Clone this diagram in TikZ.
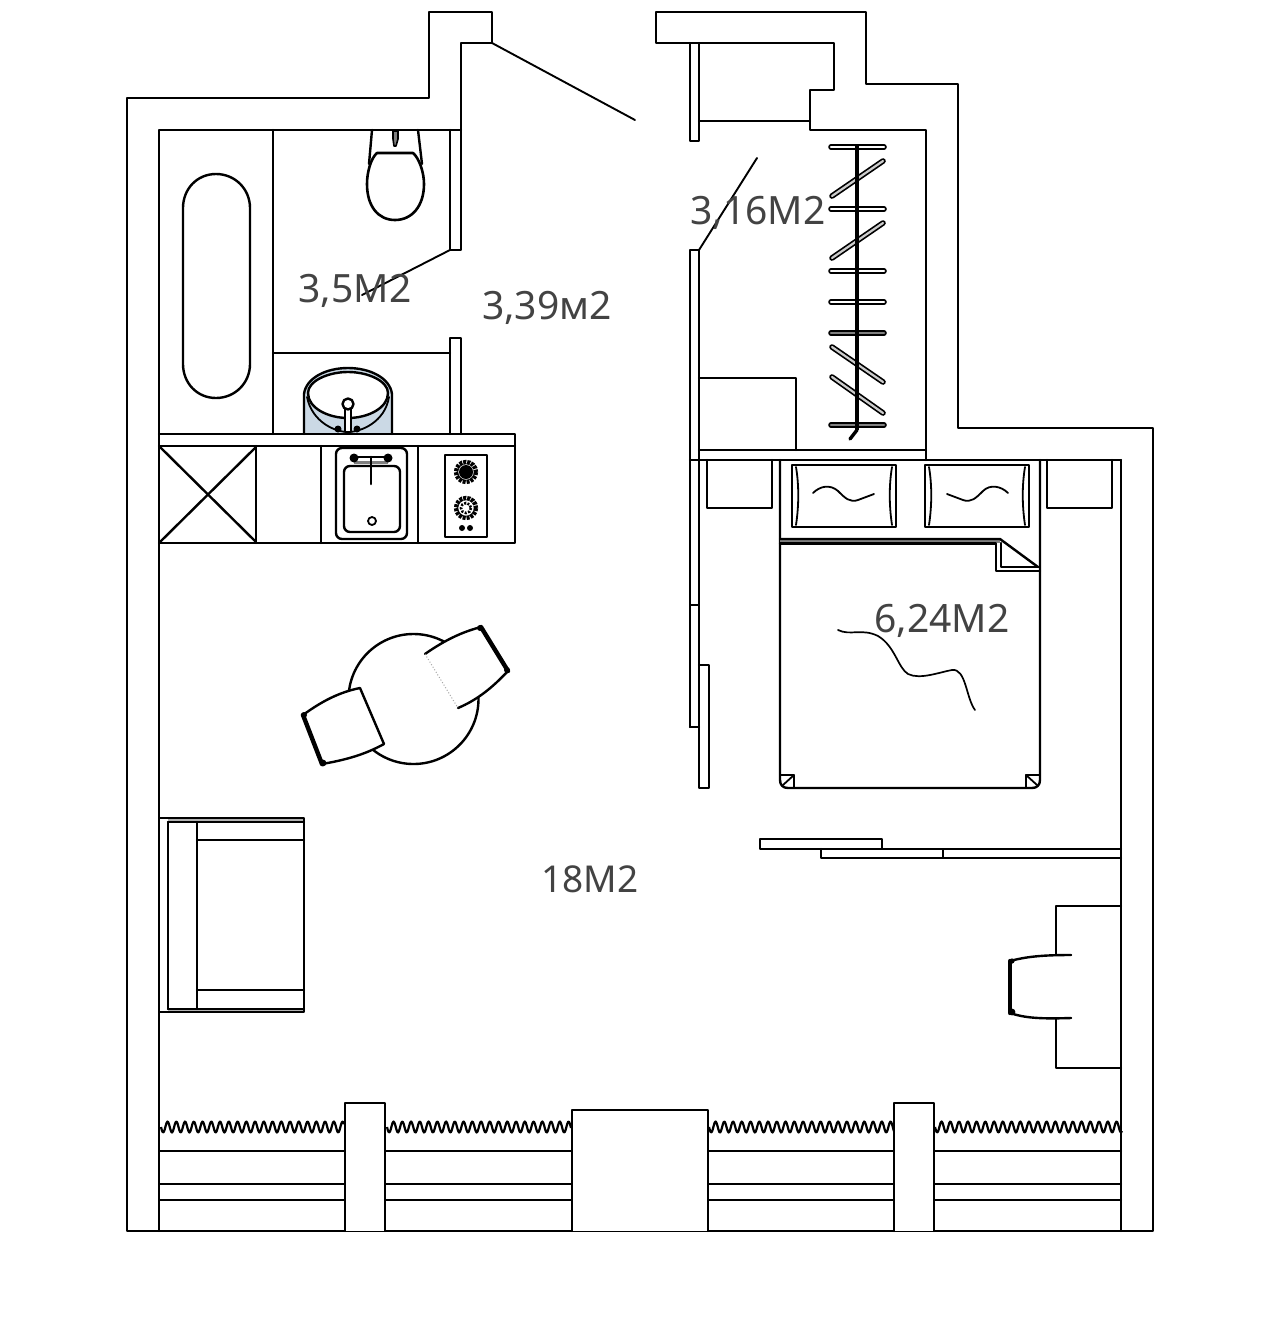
\documentclass[tikz,border=0pt]{standalone}
\usepackage{fontspec}
\setmainfont{Noto Sans}
\definecolor{basin}{HTML}{CBD9E5}
\definecolor{labelgrey}{HTML}{434343}
\tikzset{
  wall/.style={line width=2.4pt,line join=round,line cap=round},
  thin wall/.style={line width=1.8pt,line join=round,line cap=round},
  heavy/.style={line width=4.4pt,line cap=round},
  area/.style={text=labelgrey,font=\fontsize{39}{39}\selectfont,inner sep=0pt},
  curtain/.style={line width=2.2pt,line join=round},
  pillar/.style={wall,fill=white},
  chair/.style={wall,fill=white},
}
\newcommand{\hanger}[3][white]{%
  \draw[line width=5.6pt,line cap=round] #2 -- #3;
  \draw[line width=2.2pt,line cap=round,#1] #2 -- #3;}
\newcommand{\curtainrun}[2]{%
  \draw[curtain] plot[smooth,domain=0:#2,samples=200] ({#1+\x},{1127+5.5*sin(\x*41.14)});}
\begin{document}
\begin{tikzpicture}[x=1pt,y=-1pt]
\useasboundingbox (0,0) rectangle (1280,1325);
% outer walls
\draw[wall] (492,43) -- (492,12) -- (429,12) -- (429,98) -- (127,98) -- (127,1231) -- (1153,1231) -- (1153,428) -- (958,428) -- (958,84) -- (866,84) -- (866,12) -- (656,12) -- (656,43) -- (834,43) -- (834,90) -- (810,90) -- (810,130) -- (926,130) -- (926,460);
\draw[wall] (492,43) -- (461,43) -- (461,250) -- (450,250) -- (450,130);
\draw[wall] (159,1231) -- (159,130) -- (461,130);
\draw[wall] (450,434) -- (450,338) -- (461,338) -- (461,434);
\draw[wall] (273,130) -- (273,434);
\draw[wall] (273,353) -- (450,353);
% doors
\draw[wall,line width=1.9pt] (492,43) -- (635,120);
\draw[wall,line width=1.9pt] (699,250) -- (757,158);
\draw[wall,line width=1.9pt] (450,250) -- (362,295);
% hall niche
\draw[wall] (690,43) -- (690,141) -- (699,141) -- (699,43);
\draw[wall] (699,121) -- (810,121);
% wardrobe and bedroom partition
\draw[wall] (690,727) -- (690,250) -- (699,250) -- (699,788) -- (709,788) -- (709,665) -- (699,665);
\draw[wall] (690,727) -- (699,727);
\draw[thin wall] (690,605) -- (699,605);
\draw[wall] (699,378) -- (796,378) -- (796,450);
\draw[wall] (699,450) -- (926,450);
\draw[wall] (690,460) -- (1121,460);
\draw[wall] (1121,460) -- (1121,1231);
% rack
\hanger{(831,147)}{(884,147)}
\hanger{(831,209)}{(884,209)}
\hanger{(831,271)}{(884,271)}
\hanger{(831,302)}{(884,302)}
\hanger[gray]{(831,333)}{(884,333)}
\hanger[gray]{(831,425)}{(884,425)}
\hanger[gray!40]{(832,196)}{(883,161)}
\hanger[gray!40]{(832,258)}{(883,223)}
\hanger[gray!40]{(832,347)}{(883,382)}
\hanger[gray!40]{(832,377)}{(883,413)}
\draw[line width=3.4pt] (857,145) -- (857,430);
\draw[line width=3.4pt,line cap=round] (857,430) -- (850,439);
% bath
\draw[wall] (216,174) .. controls (235,174) and (250,189) .. (250,208) -- (250,364) .. controls (250,383) and (235,398) .. (216,398) .. controls (197,398) and (183,383) .. (183,364) -- (183,208) .. controls (183,189) and (197,174) .. (216,174) -- cycle;
% toilet
\draw[wall] (372,130) -- (369,164);
\draw[wall] (418,130) -- (422,164);
\draw[wall,line width=2.6pt] (377,153) -- (413,153) .. controls (419,158) and (424,172) .. (424,184) .. controls (424,206) and (412,220) .. (395,220) .. controls (378,220) and (367,206) .. (367,184) .. controls (367,172) and (371,158) .. (377,153) -- cycle;
\draw[wall,line width=1.6pt,fill=gray] (393,131) -- (398,131) -- (398,139) -- (396,146) -- (394,146) -- (393,139) -- cycle;
% basin
\draw[wall,fill=basin] (304,434) -- (304,394) .. controls (306,378) and (326,368) .. (348,368) .. controls (370,368) and (390,378) .. (392,394) -- (392,434);
\draw[wall,fill=white] (348,372) .. controls (368,372) and (388,381) .. (388,393) .. controls (388,408) and (368,418) .. (348,418) .. controls (328,418) and (308,408) .. (308,393) .. controls (308,381) and (328,372) .. (348,372) -- cycle;
\draw[thin wall] (307,397) .. controls (312,422) and (335,432) .. (348,432) .. controls (361,432) and (385,422) .. (389,397);
\draw[thin wall,fill=white] (345,409) -- (345,432) -- (351,432) -- (351,409) -- cycle;
\draw[wall,fill=white] (348,404) circle (5.5);
\fill (338,429) circle (3.5) (357,429) circle (3.5);
% kitchen counter
\draw[wall] (159,434) -- (515,434) -- (515,543) -- (159,543);
\draw[wall] (159,446) -- (515,446);
\draw[wall] (160,447) -- (256,542);
\draw[wall] (256,447) -- (160,542);
\draw[wall] (256,446) -- (256,543);
\draw[wall] (321,446) -- (321,543);
\draw[wall] (418,446) -- (418,543);
% sink
\draw[wall,rounded corners=6pt] (336,448) rectangle (407,539);
\draw[wall,rounded corners=6pt] (344,466) rectangle (400,532);
\draw[line width=3pt,gray] (354,462) -- (388,462);
\draw[wall] (354,457) -- (388,457);
\fill (354,458) circle (4.5) (388,458) circle (4.5);
\draw[wall,line width=2.6pt] (371,457) -- (371,484);
\draw[thin wall] (372,521) circle (4);
% hob
\draw[wall] (445,455) rectangle (487,537);
\draw[line width=4.4pt,dash pattern=on 3pt off 1pt] (466,472) circle (10);
\fill (466,472) circle (7);
\draw[line width=4.4pt,dash pattern=on 3pt off 1pt] (466,508) circle (10);
\draw[line width=2.6pt,dash pattern=on 2pt off 1.5pt] (466,508) circle (5);
\fill (462,528) circle (3) (470,528) circle (3);
% table and chairs
\draw[wall] (413.5,699) circle (65);
\fill[white] (360,688) -- (384,744) .. controls (364,755) and (345,760) .. (322,764) -- (303,715) .. controls (322,701) and (340,692) .. (360,688) -- cycle;
\draw[wall] (303,715) .. controls (322,701) and (340,692) .. (360,688) -- (384,744) .. controls (364,755) and (345,760) .. (322,764);
\draw[heavy] (303,715) -- (322,764);
\fill (304,715) circle (3) (323,763) circle (3.4);
\fill[white] (425,654) .. controls (445,640) and (462,632) .. (481,627) -- (508,671) .. controls (492,688) and (477,700) .. (458,708) -- cycle;
\draw[wall] (425,654) .. controls (445,640) and (462,632) .. (481,627);
\draw[wall] (458,708) .. controls (477,700) and (492,688) .. (508,671);
\draw[heavy] (481,627) -- (508,671);
\fill (480,628) circle (3) (507,670) circle (3);
\draw[gray!70,line width=1pt,dotted] (425,654) -- (458,708);
% sofa
\fill[gray!60] (168,818) rectangle (304,822);
\fill[gray!60] (168,1009) rectangle (304,1012);
\draw[wall] (160,818) -- (304,818) -- (304,1012) -- (160,1012);
\draw[wall] (168,822) -- (304,822);
\draw[wall] (168,1009) -- (304,1009);
\draw[wall] (168,822) -- (168,1009);
\draw[wall] (197,822) -- (197,1009);
\draw[wall] (197,840) -- (304,840);
\draw[wall] (197,990) -- (304,990);
% nightstands
\draw[wall] (707,460) -- (707,508) -- (772,508) -- (772,460);
\draw[wall] (1047,460) -- (1047,508) -- (1112,508) -- (1112,460);
% bed
\draw[wall] (780,460) -- (780,780) .. controls (780,785) and (783,788) .. (788,788) -- (1032,788) .. controls (1037,788) and (1040,785) .. (1040,780) -- (1040,460);
\draw[thin wall] (781,775) -- (794,775) -- (794,787);
\draw[thin wall] (783,785) -- (794,775);
\draw[thin wall] (1039,775) -- (1026,775) -- (1026,787);
\draw[thin wall] (1026,775) -- (1037,785);
\draw[line width=3pt,gray] (780,541) -- (1000,541);
\draw[wall] (780,539) -- (1000,539) -- (1038,567);
\draw[wall] (780,543.5) -- (996,543.5) -- (996,571) -- (1040,571);
\draw[wall] (1001,543) -- (1001,567) -- (1038,567);
% pillows
\draw[wall,line width=2.8pt] (792,465) rectangle (896,527);
\draw[thin wall] (796,467) .. controls (799,485) and (799,505) .. (796,525);
\draw[thin wall] (892,467) .. controls (889,485) and (889,505) .. (892,525);
\draw[wall,line width=2.8pt] (925,465) rectangle (1029,527);
\draw[thin wall] (929,467) .. controls (932,485) and (932,505) .. (929,525);
\draw[thin wall] (1025,467) .. controls (1022,485) and (1022,505) .. (1025,525);
\draw[thin wall] (813,493) .. controls (820,486) and (830,484) .. (838,491) .. controls (845,498) and (850,503) .. (858,500) -- (874,494);
\draw[thin wall] (947,494) -- (963,500) .. controls (971,503) and (976,498) .. (983,491) .. controls (990,484) and (1001,486) .. (1008,493);
% bed squiggle
\draw[line width=1.7pt,line cap=round] (838,630) .. controls (850,636) and (862,628) .. (878,636) .. controls (895,646) and (898,668) .. (908,674) .. controls (920,680) and (940,672) .. (952,670) .. controls (966,668) and (966,698) .. (975,710);
% sliding door
\draw[wall] (760,839) rectangle (882,849);
\draw[wall] (882,849) -- (1121,849);
\draw[wall] (821,849) -- (821,858) -- (1121,858);
\draw[thin wall] (943,849) -- (943,858);
% desk and chair
\draw[wall] (1071,955) -- (1056,955) -- (1056,906) -- (1121,906);
\draw[wall] (1071,1018) -- (1056,1018) -- (1056,1068) -- (1121,1068);
\draw[wall] (1010,961) .. controls (1025,957) and (1040,955) .. (1071,955);
\draw[wall] (1010,1013) .. controls (1025,1018) and (1040,1019) .. (1071,1018);
\draw[heavy] (1010,961) -- (1010,1013);
\fill (1012,961) circle (2.6) (1012,1012) circle (3.4);
% window lines
\foreach \y in {1151,1184,1200} {
  \draw[wall] (160,\y) -- (345,\y);
  \draw[wall] (385,\y) -- (572,\y);
  \draw[wall] (708,\y) -- (894,\y);
  \draw[wall] (934,\y) -- (1121,\y);
}
% curtains
\curtainrun{161}{183}
\curtainrun{387}{184}
\curtainrun{709}{186}
\curtainrun{935}{187}
% pillars
\draw[pillar] (345,1231) -- (345,1103) -- (385,1103) -- (385,1231);
\draw[pillar] (572,1231) -- (572,1110) -- (708,1110) -- (708,1231);
\draw[pillar] (894,1231) -- (894,1103) -- (934,1103) -- (934,1231);
% labels
\node[area] (bathArea) at (355,291) {3,5М2};
\node[area] (hallArea) at (547,308) {3,39м2};
\node[area] (closetArea) at (758,213) {3,16М2};
\node[area] (bedArea) at (942,621) {6,24М2};
\node[area,font=\fontsize{37}{37}\selectfont] (mainArea) at (590,879) {18М2};
\end{tikzpicture}
\end{document}
